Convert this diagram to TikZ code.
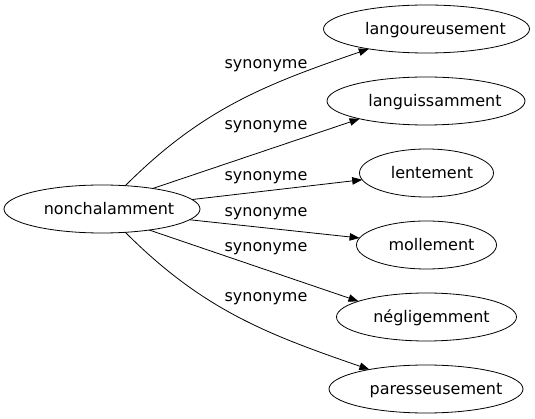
\documentclass[tikz,border=0pt]{standalone}
\usepackage{fontspec}
\setmainfont{DejaVu Sans}
\usetikzlibrary{shapes.geometric,arrows.meta}
\newcommand{\shtxt}[2]{\makebox[0pt]{\hspace*{#1}#2}}
\tikzset{
  wnode/.style={ellipse, draw, line width=0.8pt, inner sep=0pt, outer sep=0pt,
    minimum height=48pt, text height=10.6pt, text depth=0pt,
    font=\fontsize{16}{19}\selectfont},
  lbl/.style={font=\fontsize{16}{19}\selectfont, inner sep=0pt, anchor=mid},
  syn/.style={draw, line width=0.8pt, -{Triangle[length=10pt,width=7.5pt]}},
}
\begin{document}
\begin{tikzpicture}[x=1pt,y=1pt]
\useasboundingbox (0,0) rectangle (535,-419);
\node[wnode, minimum width=196pt] (n) at (102,-209) {\shtxt{14pt}{nonchalamment}};
\node[wnode, minimum width=206pt] (l1) at (426.5,-29) {\shtxt{18pt}{langoureusement}};
\node[wnode, minimum width=198pt] (l2) at (426,-101) {\shtxt{18pt}{languissamment}};
\node[wnode, minimum width=134pt] (l3) at (426.5,-173) {\shtxt{11pt}{lentement}};
\node[wnode, minimum width=140pt] (l4) at (426.5,-245) {\shtxt{10pt}{mollement}};
\node[wnode, minimum width=180pt] (l5) at (426.5,-317) {\shtxt{10pt}{négligemment}};
\node[wnode, minimum width=194pt] (l6) at (426,-389) {\shtxt{20pt}{paresseusement}};

\draw[syn] (n) to[out=45,in=199] (l1);
\draw[syn] (n.22) -- (l2.195);
\draw[syn] (n.6) -- (l3.186);
\draw[syn] (n.-7) -- (l4.174);
\draw[syn] (n.-24) -- (l5.167);
\draw[syn] (n) to[out=-45,in=161] (l6);

\node[lbl] (s1) at (266,-66) {synonyme};
\node[lbl] (s2) at (266,-127) {synonyme};
\node[lbl] (s3) at (266,-178) {synonyme};
\node[lbl] (s4) at (266,-214) {synonyme};
\node[lbl] (s5) at (266,-249) {synonyme};
\node[lbl] (s6) at (266,-299) {synonyme};
\end{tikzpicture}
\end{document}
